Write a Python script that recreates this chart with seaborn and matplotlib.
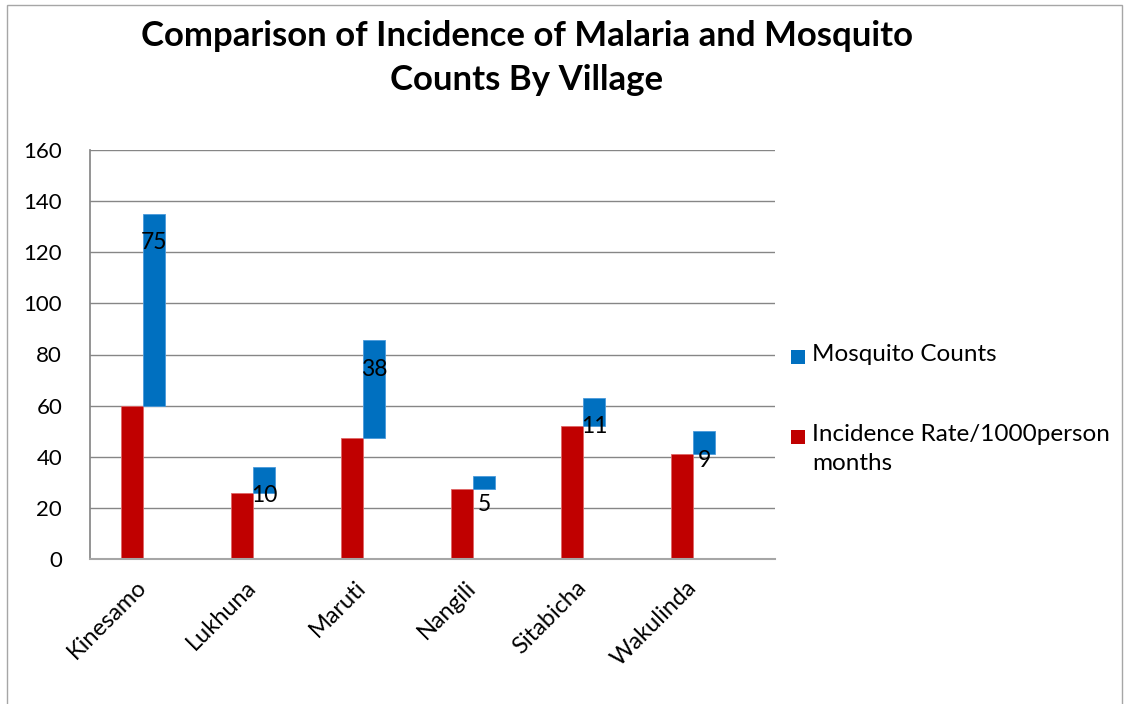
import matplotlib
matplotlib.use("Agg")
import matplotlib.pyplot as plt
import seaborn as sns
import numpy as np
import pandas as pd
from matplotlib.patches import Rectangle
from matplotlib.transforms import ScaledTranslation

villages = ["Kinesamo", "Lukhuna", "Maruti", "Nangili", "Sitabicha", "Wakulinda"]
incidence = [60, 26, 47.5, 27.5, 52, 41]
mosquito = [75, 10, 38, 5, 11, 9]
y_ticks = [0, 20, 40, 60, 80, 100, 120, 140, 160]

RED = "#C00000"
BLUE = "#0070C0"
GRID = "#868686"

sns.set_theme(style="white")
plt.rcParams["font.family"] = ["Lato", "DejaVu Sans"]
plt.rcParams["text.color"] = "black"
plt.rcParams["xtick.color"] = "black"
plt.rcParams["ytick.color"] = "black"

fig = plt.figure(figsize=(11.28, 7.04), dpi=100)
W, H = 1128, 704
ax = fig.add_axes([90 / W, (H - 559) / H, (775 - 90) / W, (559 - 150) / H])

df = pd.DataFrame({"village": villages, "incidence": incidence, "mosquito": mosquito})
df["pos"] = np.arange(len(df), dtype=float)

# incidence bars sit just left of each category centre
sns.barplot(x=df["pos"] - 0.1, y=df["incidence"], native_scale=True, width=0.2,
            color=RED, saturation=1, edgecolor="#E06666", linewidth=0.6, ax=ax)
# mosquito counts float on top of the incidence value, right of centre
ax.bar(df["pos"] + 0.1, df["mosquito"], width=0.2, bottom=df["incidence"],
       color=BLUE, edgecolor="#4A9ADB", linewidth=0.6, zorder=3)

for p, inc, m in zip(df["pos"], df["incidence"], df["mosquito"]):
    ax.annotate(str(m), xy=(p + 0.1, inc + m), xytext=(0, -29),
                textcoords="offset pixels", ha="center", va="center",
                fontsize=16.5, color="black", zorder=5)

ax.set_ylim(0, 160)
ax.set_xlim(-0.48, 5.745)
ax.set_yticks(y_ticks)
ax.set_yticklabels([str(v) for v in y_ticks], fontsize=16, color="black")
ax.set_xticks(df["pos"])
ax.set_xticklabels(villages, fontsize=17, rotation=45, ha="right",
                   rotation_mode="anchor", va="center", color="black")
shift = ScaledTranslation(11 / 100, 0, fig.dpi_scale_trans)
for lbl in ax.get_xticklabels():
    lbl.set_transform(lbl.get_transform() + shift)
ax.tick_params(axis="x", length=0, pad=18)
ax.tick_params(axis="y", length=0, pad=20)
ax.set_xlabel("")
ax.set_ylabel("")

ax.yaxis.grid(True, color=GRID, linewidth=1)
ax.xaxis.grid(False)
ax.set_axisbelow(True)
for side in ("top", "right"):
    ax.spines[side].set_visible(False)
ax.spines["left"].set_color(GRID)
ax.spines["bottom"].set_color("#A6A6A6")
ax.spines["bottom"].set_linewidth(1.5)

fig.text(527 / W, 1 - 58 / H, "Comparison of Incidence of Malaria and Mosquito\nCounts By Village",
         ha="center", va="center", fontsize=25, fontweight="bold", linespacing=1.5,
         color="black")

# legend
legend_items = [("Mosquito Counts", BLUE, 357), ("Incidence Rate/1000person\nmonths", RED, 437)]
for text, col, yc in legend_items:
    fig.patches.append(Rectangle((791 / W, 1 - (yc + 7) / H), 14 / W, 14 / H,
                                 transform=fig.transFigure, facecolor=col, edgecolor="none"))
    fig.text(812 / W, 1 - (yc - 13) / H, text, ha="left", va="top", fontsize=17.5,
             linespacing=1.5, color="black")

# chart frame
fig.patches.append(Rectangle((7 / W, -0.01), (1122 - 7) / W, (704 - 5) / H + 0.01,
                             transform=fig.transFigure, facecolor="none",
                             edgecolor="#A6A6A6", linewidth=1))

fig.savefig("out.png", dpi=100)
